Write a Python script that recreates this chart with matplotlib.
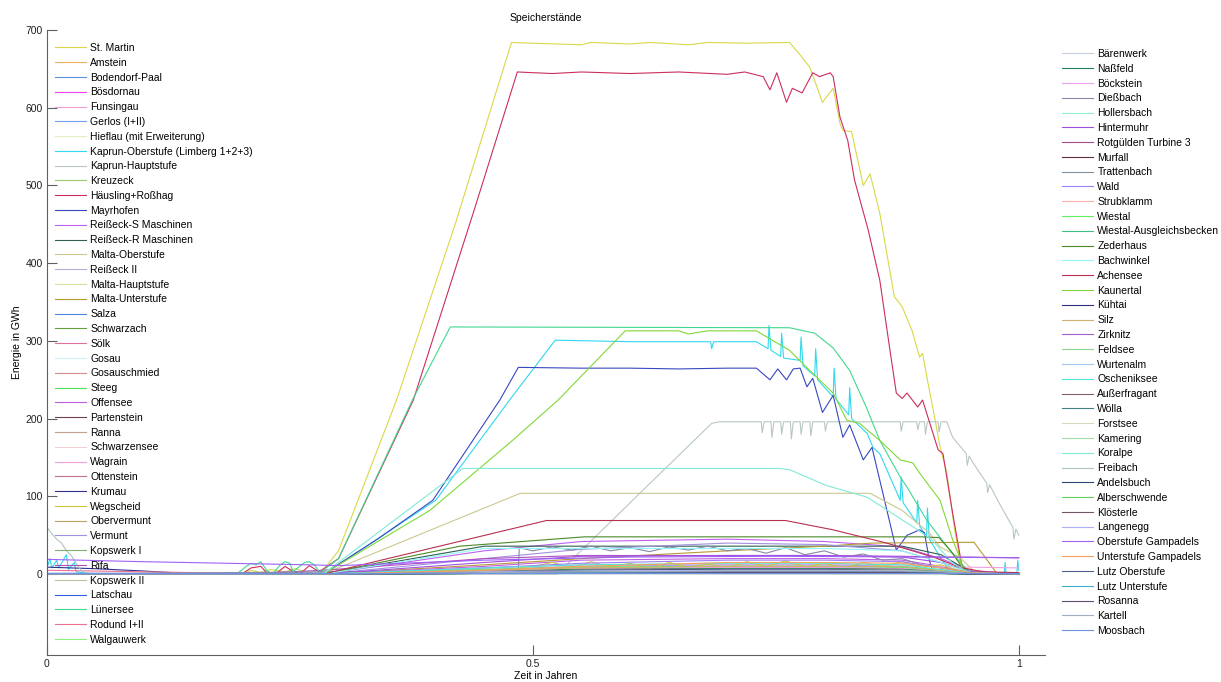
import matplotlib
matplotlib.use("Agg")
import matplotlib.pyplot as plt

plt.rcParams['font.family'] = ['Liberation Sans', 'DejaVu Sans']

# legend names (left legend inside axes, right legend outside)
NAMES_LEFT = [
    "St. Martin", "Amstein", "Bodendorf-Paal", "Bösdornau", "Funsingau", "Gerlos (I+II)",
    "Hieflau (mit Erweiterung)", "Kaprun-Oberstufe (Limberg 1+2+3)", "Kaprun-Hauptstufe",
    "Kreuzeck", "Häusling+Roßhag", "Mayrhofen", "Reißeck-S Maschinen", "Reißeck-R Maschinen",
    "Malta-Oberstufe", "Reißeck II", "Malta-Hauptstufe", "Malta-Unterstufe", "Salza",
    "Schwarzach", "Sölk", "Gosau", "Gosauschmied", "Steeg", "Offensee", "Partenstein",
    "Ranna", "Schwarzensee", "Wagrain", "Ottenstein", "Krumau", "Wegscheid", "Obervermunt",
    "Vermunt", "Kopswerk I", "Rifa", "Kopswerk II", "Latschau", "Lünersee", "Rodund I+II",
    "Walgauwerk",
]
NAMES_RIGHT = [
    "Bärenwerk", "Naßfeld", "Böckstein", "Dießbach", "Hollersbach", "Hintermuhr",
    "Rotgülden Turbine 3", "Murfall", "Trattenbach", "Wald", "Strubklamm", "Wiestal",
    "Wiestal-Ausgleichsbecken", "Zederhaus", "Bachwinkel", "Achensee", "Kaunertal", "Kühtai",
    "Silz", "Zirknitz", "Feldsee", "Wurtenalm", "Oscheniksee", "Außerfragant", "Wölla",
    "Forstsee", "Kamering", "Koralpe", "Freibach", "Andelsbuch", "Alberschwende", "Klösterle",
    "Langenegg", "Oberstufe Gampadels", "Unterstufe Gampadels", "Lutz Oberstufe",
    "Lutz Unterstufe", "Rosanna", "Kartell", "Moosbach",
]

# line colours, same order as the names
COLORS_LEFT = [
    "#d8d848", "#f0b060", "#6090e0", "#f040f0", "#f0a0d0", "#70a0f0", "#e0f0c0", "#30d8f0",
    "#b8c8c0", "#a0c870", "#cc2e5c", "#3848c0", "#c060f0", "#306050", "#ccc890", "#b0b0d8",
    "#d8e0a0", "#b89830", "#5080e0", "#60a040", "#e070a0", "#d0f0f8", "#d09090", "#50e050",
    "#c060e0", "#704050", "#c0a090", "#f0d0d0", "#f0a0e0", "#c07090", "#303090", "#ccc840",
    "#c0a060", "#a090e0", "#80b070", "#b050c0", "#c0c0a0", "#3060e0", "#40d890", "#f07090",
    "#90f080",
]
COLORS_RIGHT = [
    "#c8d0e0", "#208060", "#f0a0f0", "#8888a8", "#90f0d0", "#a050e0", "#a05080", "#603040",
    "#8090a0", "#a080f8", "#f8b0b0", "#60f060", "#40c080", "#4a8a28", "#90f8f8", "#b83050",
    "#80d838", "#303080", "#d0b070", "#a060d0", "#90d890", "#a0c8f0", "#50e8d8", "#806070",
    "#408080", "#d8d8c0", "#a0e0b0", "#80ead8", "#b0c4c0", "#304878", "#60d060", "#705868",
    "#b0b0f8", "#a060f8", "#f8a060", "#506090", "#40b0d0", "#605070", "#a0b0c0", "#7090e0",
]

# ---- large reservoirs (time in years, energy in GWh) ----
ST_MARTIN_T = [0, 0.20, 0.21, 0.22, 0.23, 0.245, 0.255, 0.27, 0.281, 0.30, 0.36, 0.42, 0.478,
               0.50, 0.55, 0.56, 0.60, 0.62, 0.66, 0.68, 0.72, 0.764, 0.775, 0.785, 0.798,
               0.809, 0.816, 0.819, 0.828, 0.840, 0.847, 0.857, 0.872, 0.880, 0.890, 0.898,
               0.901, 0.906, 0.914, 0.919, 0.926, 0.934, 0.939, 0.944, 1.0]
ST_MARTIN_E = [0, 0, 5, 2, 6, 3, 7, 2, 0, 30, 225, 450, 684,
               683, 681, 684, 682, 684, 681, 684, 683, 684, 668, 652, 607,
               625, 580, 571, 569, 500, 515, 464, 357, 344, 314, 279,
               284, 250, 198, 164, 130, 57, 22, 1, 0]

HAEUSLING_T = [0, 0.20, 0.21, 0.22, 0.226, 0.235, 0.245, 0.25, 0.26, 0.27, 0.28, 0.30, 0.377,
               0.44, 0.484, 0.52, 0.55, 0.60, 0.65, 0.70, 0.718, 0.737, 0.744, 0.751, 0.761,
               0.767, 0.777, 0.788, 0.795, 0.806, 0.809, 0.816, 0.824, 0.831, 0.845, 0.857,
               0.867, 0.874, 0.880, 0.885, 0.896, 0.901, 0.917, 0.922, 0.932, 0.941, 0.947, 1.0]
HAEUSLING_E = [0, 0, 8, 10, 2, 0, 10, 6, 0, 11, 3, 20, 224,
               470, 646, 644, 646, 644, 646, 643, 646, 640, 623, 645, 607,
               625, 619, 645, 640, 645, 640, 588, 558, 507, 443, 378,
               292, 233, 226, 233, 215, 224, 160, 155, 78, 14, 1, 0]

LUENERSEE_T = [0, 0.195, 0.205, 0.21, 0.215, 0.22, 0.226, 0.232, 0.24, 0.245, 0.25, 0.253,
               0.26, 0.265, 0.27, 0.275, 0.281, 0.30, 0.376, 0.415, 0.764, 0.79, 0.809, 0.826,
               0.843, 0.857, 0.878, 0.885, 0.905, 0.929, 0.947, 0.96, 1.0]
LUENERSEE_E = [0, 0, 10, 14, 12, 16, 5, 0, 12, 16, 14, 3,
               10, 15, 16, 12, 2, 20, 224, 318, 317, 310, 291, 262,
               215, 172, 125, 112, 70, 31, 5, 0, 0]

KAPRUN_OS_T = [0, 0.003, 0.005, 0.01, 0.012, 0.02, 0.022, 0.028, 0.03, 0.05, 0.284, 0.30, 0.40,
               0.476, 0.523, 0.60, 0.683, 0.684, 0.686, 0.73, 0.742, 0.743, 0.745, 0.755,
               0.756, 0.758, 0.775, 0.776, 0.778, 0.790, 0.791, 0.793, 0.809, 0.810, 0.812,
               0.825, 0.826, 0.828, 0.844, 0.850, 0.857, 0.878, 0.879, 0.881, 0.895, 0.896,
               0.898, 0.905, 0.906, 0.908, 0.919, 0.929, 0.94, 0.985, 0.986, 0.987, 0.998,
               0.999, 1.0]
KAPRUN_OS_E = [8, 20, 8, 18, 8, 25, 6, 15, 3, 0, 0, 12, 95,
               224, 301, 299, 299, 290, 299, 299, 290, 320, 288, 280,
               310, 278, 275, 305, 268, 255, 290, 250, 228, 265, 225,
               205, 240, 200, 181, 163, 155, 95, 125, 92, 66, 95,
               62, 48, 85, 45, 22, 5, 0, 0, 15, 0, 0, 18, 5]

MAYRHOFEN_T = [0, 0.284, 0.34, 0.397, 0.466, 0.485, 0.55, 0.60, 0.65, 0.70, 0.73, 0.744,
               0.752, 0.761, 0.768, 0.775, 0.782, 0.788, 0.798, 0.809, 0.819, 0.826, 0.840,
               0.849, 0.874, 0.885, 0.898, 0.903, 0.908, 0.912, 1.0]
MAYRHOFEN_E = [0, 0, 45, 95, 224, 266, 265, 265, 264, 265, 265, 250,
               264, 250, 264, 265, 241, 252, 208, 230, 176, 192, 147,
               163, 31, 50, 57, 53, 18, 1, 0]

KAUNERTAL_T = [0, 0.284, 0.394, 0.479, 0.526, 0.595, 0.65, 0.66, 0.68, 0.730, 0.764, 0.785,
               0.809, 0.823, 0.836, 0.857, 0.878, 0.891, 0.898, 0.919, 0.932, 0.939, 0.942,
               0.95, 1.0]
KAUNERTAL_E = [0, 0, 82, 172, 224, 313, 313, 309, 313, 313, 288, 262,
               233, 198, 194, 172, 147, 143, 130, 95, 44, 22, 5,
               0, 0]

KAPRUN_HS_T = [0, 0.525, 0.61, 0.684, 0.692, 0.735, 0.736, 0.738, 0.745, 0.746, 0.748, 0.755,
               0.756, 0.758, 0.765, 0.766, 0.768, 0.775, 0.776, 0.778, 0.785, 0.786, 0.788,
               0.800, 0.801, 0.803, 0.878, 0.879, 0.881, 0.895, 0.896, 0.898, 0.903, 0.904,
               0.906, 0.917, 0.918, 0.920, 0.926, 0.932, 0.946, 0.947, 0.949, 0.953, 0.967,
               0.968, 0.970, 0.980, 0.994, 0.995, 0.997, 1.0]
KAPRUN_HS_E = [0, 0, 104, 194, 196, 196, 182, 196, 196, 176, 196, 196,
               180, 196, 196, 174, 196, 196, 180, 196, 196, 178, 196,
               196, 184, 196, 196, 184, 196, 196, 186, 196, 196, 180,
               196, 196, 183, 196, 196, 176, 155, 140, 152, 143, 117,
               105, 115, 91, 60, 45, 58, 50]

KORALPE_T = [0, 0.284, 0.428, 0.754, 0.765, 0.802, 0.844, 0.870, 0.891, 0.91, 0.932, 0.947,
             0.96, 1.0]
KORALPE_E = [0, 0, 136, 136, 134, 114, 99, 78, 61, 45, 14, 3, 0, 0]

MALTA_OS_T = [0, 0.284, 0.487, 0.847, 0.88, 0.908, 0.919, 0.939, 0.953, 0.965, 1.0]
MALTA_OS_E = [0, 0, 104, 104, 82, 53, 35, 22, 5, 0, 0]

ACHENSEE_T = [0, 0.284, 0.514, 0.76, 0.809, 0.864, 0.912, 0.939, 0.963, 1.0]
ACHENSEE_E = [0, 0, 69, 69, 57, 40, 22, 9, 3, 2]

ZEDERHAUS_T = [0, 0.284, 0.425, 0.553, 0.90, 0.918, 0.93, 0.945, 0.96, 1.0]
ZEDERHAUS_E = [0, 0, 36, 48, 48, 47, 30, 3, 0, 0]

MALTA_US_T = [0, 0.284, 0.45, 0.55, 0.70, 0.80, 0.85, 0.954, 0.978, 1.0]
MALTA_US_E = [0, 0, 12, 20, 30, 36, 40, 41, 0, 0]

DIESSBACH_T = [0, 0.284, 0.485, 0.486, 0.50, 0.52, 0.54, 0.56, 0.58, 0.60, 0.62, 0.64, 0.66,
               0.68, 0.70, 0.72, 0.74, 0.76, 0.78, 0.80, 0.82, 0.84, 0.86, 0.88, 0.90, 0.92,
               0.95, 1.0]
DIESSBACH_E = [0, 3, 5, 34, 30, 35, 31, 36, 30, 34, 29, 35, 31,
               36, 30, 33, 27, 34, 25, 30, 22, 26, 18, 20, 12, 8,
               2, 0]

WEGSCHEID_T = [0, 0.284, 0.45, 0.50, 0.52, 0.54, 0.56, 0.58, 0.60, 0.62, 0.64, 0.66, 0.68,
               0.70, 0.72, 0.74, 0.76, 0.78, 0.80, 0.82, 0.84, 0.86, 0.88, 0.90, 0.92, 0.94,
               0.96, 1.0]
WEGSCHEID_E = [0, 0, 3, 10, 15, 8, 16, 9, 14, 7, 15, 9, 13,
               8, 16, 10, 17, 9, 14, 8, 15, 10, 16, 9, 12, 4,
               0, 0]

FREIBACH_T = [0, 0.005, 0.01, 0.015, 0.02, 0.025, 0.03, 0.035, 0.04, 1.0]
FREIBACH_E = [60, 52, 45, 40, 30, 24, 14, 5, 1, 0]

KRUMAU_T = [0, 0.05, 0.10, 0.142, 1.0]
KRUMAU_E = [9, 7, 4, 1, 1]

GAMPADELS_OS_T = [0, 0.10, 0.27, 0.30, 0.45, 0.60, 0.75, 0.90, 1.0]
GAMPADELS_OS_E = [19, 16, 12, 11, 18, 22, 23, 22, 21]

# ---- small reservoirs, read at common points in time ----
LOW_T = [0, 0.20, 0.284, 0.45, 0.55, 0.70, 0.80, 0.88, 0.92, 0.95, 1.0]
LOW_E = {
    "Amstein": [0, 0, 0, 3, 5, 6, 6, 5, 2, 0, 0],
    "Bodendorf-Paal": [1, 1, 1, 2, 3, 3, 3, 3, 2, 1, 1],
    "Bösdornau": [0, 0, 0, 4, 7, 8, 8, 7, 4, 1, 0],
    "Funsingau": [0, 0, 0, 2, 4, 5, 5, 5, 3, 1, 0],
    "Gerlos (I+II)": [0, 0, 0, 6, 10, 12, 12, 10, 5, 1, 0],
    "Hieflau (mit Erweiterung)": [0, 0, 0, 5, 8, 9, 9, 8, 4, 1, 0],
    "Kreuzeck": [0, 0, 0, 3, 6, 7, 7, 6, 3, 0, 0],
    "Reißeck-S Maschinen": [0, 0, 0, 30, 42, 45, 42, 35, 20, 5, 0],
    "Reißeck-R Maschinen": [0, 0, 0, 36, 36, 36, 36, 36, 25, 3, 0],
    "Reißeck II": [0, 0, 0, 4, 6, 7, 7, 6, 3, 1, 0],
    "Malta-Hauptstufe": [0, 0, 0, 2, 3, 3, 3, 3, 2, 1, 0],
    "Salza": [0, 0, 0, 1, 2, 2, 2, 2, 1, 0, 0],
    "Schwarzach": [0, 0, 0, 5, 8, 10, 10, 9, 5, 1, 0],
    "Sölk": [0, 0, 0, 3, 5, 6, 6, 5, 3, 1, 0],
    "Gosau": [0, 0, 0, 1, 2, 3, 3, 3, 2, 1, 0],
    "Gosauschmied": [0, 0, 0, 1, 1, 2, 2, 2, 1, 0, 0],
    "Steeg": [0, 0, 0, 2, 3, 4, 4, 3, 2, 1, 0],
    "Offensee": [0, 0, 0, 10, 18, 20, 20, 18, 10, 2, 0],
    "Partenstein": [0, 0, 0, 3, 4, 5, 5, 5, 3, 1, 0],
    "Ranna": [0, 0, 0, 2, 4, 5, 5, 4, 2, 1, 0],
    "Schwarzensee": [0, 0, 0, 3, 5, 6, 6, 6, 4, 2, 1],
    "Wagrain": [0, 0, 0, 8, 12, 12, 12, 12, 10, 9, 8],
    "Ottenstein": [0, 0, 0, 4, 6, 8, 8, 7, 4, 1, 0],
    "Obervermunt": [0, 0, 0, 2, 3, 4, 4, 3, 2, 1, 0],
    "Vermunt": [0, 0, 0, 20, 32, 40, 38, 30, 15, 3, 0],
    "Kopswerk I": [0, 0, 0, 4, 6, 7, 7, 6, 4, 1, 0],
    "Rifa": [0, 0, 5, 20, 24, 24, 24, 23, 22, 22, 21],
    "Kopswerk II": [0, 0, 0, 1, 2, 2, 2, 2, 1, 0, 0],
    "Latschau": [1, 1, 1, 1, 1, 1, 1, 1, 1, 1, 1],
    "Rodund I+II": [5, 1, 0, 1, 2, 2, 2, 2, 2, 2, 1],
    "Walgauwerk": [0, 0, 0, 1, 1, 1, 1, 1, 1, 0, 0],
    "Bärenwerk": [0, 0, 0, 2, 3, 3, 3, 3, 2, 1, 0],
    "Naßfeld": [0, 0, 0, 4, 6, 7, 7, 6, 3, 1, 0],
    "Böckstein": [0, 0, 0, 5, 8, 9, 9, 8, 5, 2, 0],
    "Hollersbach": [0, 0, 0, 3, 5, 6, 6, 5, 3, 1, 0],
    "Hintermuhr": [0, 0, 0, 15, 23, 24, 24, 22, 15, 3, 0],
    "Rotgülden Turbine 3": [0, 0, 0, 2, 3, 4, 4, 4, 2, 1, 0],
    "Murfall": [0, 0, 0, 2, 3, 3, 3, 3, 2, 0, 0],
    "Trattenbach": [0, 0, 0, 1, 2, 3, 3, 3, 2, 1, 0],
    "Wald": [0, 0, 0, 8, 14, 18, 18, 16, 8, 1, 0],
    "Strubklamm": [0, 0, 0, 3, 5, 6, 6, 5, 3, 1, 0],
    "Wiestal": [0, 0, 0, 6, 9, 10, 10, 9, 5, 1, 0],
    "Wiestal-Ausgleichsbecken": [0, 0, 0, 1, 2, 2, 2, 2, 1, 0, 0],
    "Bachwinkel": [0, 0, 0, 33, 33, 33, 33, 30, 15, 2, 0],
    "Kühtai": [0, 0, 0, 3, 5, 6, 6, 5, 3, 1, 0],
    "Silz": [0, 0, 0, 5, 8, 10, 10, 10, 5, 1, 0],
    "Zirknitz": [0, 0, 0, 2, 3, 4, 4, 3, 2, 1, 0],
    "Feldsee": [0, 0, 0, 3, 4, 5, 5, 5, 3, 1, 0],
    "Wurtenalm": [0, 0, 0, 2, 3, 3, 3, 3, 2, 1, 0],
    "Oscheniksee": [0, 0, 0, 8, 12, 14, 14, 12, 6, 2, 0],
    "Außerfragant": [0, 0, 0, 2, 2, 3, 3, 3, 2, 1, 0],
    "Wölla": [0, 0, 0, 1, 2, 2, 2, 2, 1, 1, 0],
    "Forstsee": [0, 0, 0, 2, 3, 4, 4, 4, 2, 1, 0],
    "Kamering": [0, 0, 0, 1, 2, 2, 2, 2, 1, 0, 0],
    "Andelsbuch": [0, 0, 0, 1, 2, 3, 3, 3, 2, 1, 0],
    "Alberschwende": [0, 0, 0, 1, 1, 2, 2, 2, 1, 0, 0],
    "Klösterle": [0, 0, 0, 1, 2, 2, 2, 2, 1, 0, 0],
    "Langenegg": [0, 0, 0, 3, 4, 5, 5, 4, 2, 1, 0],
    "Unterstufe Gampadels": [0, 0, 0, 5, 10, 15, 15, 14, 8, 2, 0],
    "Lutz Oberstufe": [0, 0, 0, 2, 3, 3, 3, 3, 2, 1, 0],
    "Lutz Unterstufe": [0, 0, 0, 1, 2, 2, 2, 2, 1, 0, 0],
    "Rosanna": [0, 0, 0, 1, 1, 2, 2, 2, 1, 0, 0],
    "Kartell": [0, 0, 0, 2, 3, 4, 4, 4, 3, 1, 0],
    "Moosbach": [2, 2, 2, 2, 2, 2, 2, 2, 2, 2, 2],
}

series = {
    "St. Martin": (ST_MARTIN_T, ST_MARTIN_E),
    "Häusling+Roßhag": (HAEUSLING_T, HAEUSLING_E),
    "Lünersee": (LUENERSEE_T, LUENERSEE_E),
    "Kaprun-Oberstufe (Limberg 1+2+3)": (KAPRUN_OS_T, KAPRUN_OS_E),
    "Mayrhofen": (MAYRHOFEN_T, MAYRHOFEN_E),
    "Kaunertal": (KAUNERTAL_T, KAUNERTAL_E),
    "Kaprun-Hauptstufe": (KAPRUN_HS_T, KAPRUN_HS_E),
    "Koralpe": (KORALPE_T, KORALPE_E),
    "Malta-Oberstufe": (MALTA_OS_T, MALTA_OS_E),
    "Achensee": (ACHENSEE_T, ACHENSEE_E),
    "Zederhaus": (ZEDERHAUS_T, ZEDERHAUS_E),
    "Malta-Unterstufe": (MALTA_US_T, MALTA_US_E),
    "Dießbach": (DIESSBACH_T, DIESSBACH_E),
    "Wegscheid": (WEGSCHEID_T, WEGSCHEID_E),
    "Freibach": (FREIBACH_T, FREIBACH_E),
    "Krumau": (KRUMAU_T, KRUMAU_E),
    "Oberstufe Gampadels": (GAMPADELS_OS_T, GAMPADELS_OS_E),
}
for name, levels in LOW_E.items():
    series[name] = (LOW_T, levels)

W, H = 1221, 682
fig = plt.figure(figsize=(W / 100, H / 100), dpi=100)
ax = fig.add_axes([47 / W, 27 / H, 998 / W, 625 / H])

handles = []
for name, color in zip(NAMES_LEFT + NAMES_RIGHT, COLORS_LEFT + COLORS_RIGHT):
    t, e = series[name]
    line, = ax.plot(t, e, color=color, lw=0.8, label=name)
    handles.append(line)

ax.set_xlim(0, 1.027)
ax.set_ylim(-104, 700)
ax.set_yticks(range(0, 701, 100))
ax.set_xticks([0, 0.5, 1])
ax.set_xticklabels(["0", "0.5", "1"])
for side in ["top", "right"]:
    ax.spines[side].set_visible(False)
for side in ["left", "bottom"]:
    ax.spines[side].set_color("#606060")
ax.tick_params(direction="in", length=7, width=0.8, color="#606060", labelsize=7.5,
               labelcolor="#202020", pad=3)

fs = 7.5
leg_kw = dict(frameon=False, fontsize=fs, handlelength=3.0, handletextpad=0.4,
              labelspacing=0.46, borderpad=0, borderaxespad=0, loc="upper left",
              bbox_transform=fig.transFigure)
n_left = len(NAMES_LEFT)
leg1 = ax.legend(handles[:n_left], NAMES_LEFT, bbox_to_anchor=(55 / W, 1 - 43 / H), **leg_kw)
ax.add_artist(leg1)
leg2 = ax.legend(handles[n_left:], NAMES_RIGHT, bbox_to_anchor=(1062 / W, 1 - 49 / H), **leg_kw)

fig.text(546 / W, 1 - 18 / H, "Speicherstände", ha="center", va="center", fontsize=fs)
fig.text(546 / W, 1 - 676 / H, "Zeit in Jahren", ha="center", va="center", fontsize=fs)
fig.text(17 / W, 1 - 342 / H, "Energie in GWh", ha="center", va="center", rotation=90,
         fontsize=fs)

fig.savefig("out.png", dpi=100)
